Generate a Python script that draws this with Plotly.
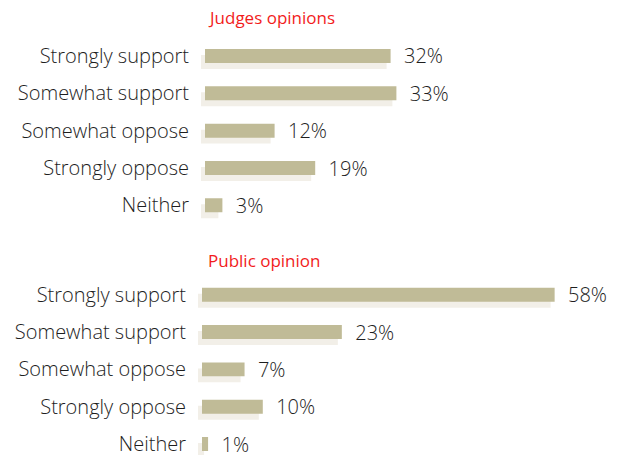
import plotly.graph_objects as go

categories = ["Strongly support", "Somewhat support", "Somewhat oppose", "Strongly oppose", "Neither"]
judges_values = [32, 33, 12, 19, 3]
public_values = [58, 23, 7, 10, 1]
titles = ["Judges opinions", "Public opinion"]

W, H = 618, 457
BAR = "#c0bb97"
SHADOW = "#f2efe8"
FONT = "Open Sans"
FW = 300
TXT = "#1e1e1e"

SPACING = 37.5
SH_DX, SH_DY = -4, 6


def xdom(x0_px, scale, xmax):
    return [x0_px / W, min(1.0, (x0_px + scale * xmax) / W)]


def ydom(top_px, bottom_px):
    lo = max(0.0, (H - bottom_px) / H)
    hi = (H - top_px) / H
    vis_bottom = min(bottom_px, H)
    r_bottom = -0.5 + (vis_bottom - top_px) / SPACING
    return [lo, hi], [r_bottom, -0.5]


panels = [
    dict(vals=judges_values, x0=205, scale=5.8, xmax=70, c0=56.24),
    dict(vals=public_values, x0=202, scale=6.08, xmax=66, c0=296.0),
]

fig = go.Figure()
layout = dict(
    width=W, height=H, margin=dict(l=0, r=0, t=0, b=0),
    paper_bgcolor="white", plot_bgcolor="rgba(0,0,0,0)",
    showlegend=False, font=dict(family=FONT, size=20, color=TXT, weight=FW),
    bargap=1 - 14 / SPACING,
)

n = len(panels)
for i, p in enumerate(panels):
    top = p["c0"] - SPACING / 2
    bottom = top + SPACING * len(categories)
    si = i + 1
    mi = i + 1 + n
    sd, sr = ydom(top + SH_DY, bottom + SH_DY)
    md, mr = ydom(top, bottom)
    sx = "" if si == 1 else str(si)
    mx = str(mi)
    layout["xaxis" + sx] = dict(domain=xdom(p["x0"] + SH_DX, p["scale"], p["xmax"]), range=[0, p["xmax"]],
                                visible=False, anchor="y" + sx)
    layout["yaxis" + sx] = dict(domain=sd, range=sr, type="category", categoryorder="array",
                                categoryarray=categories, visible=False, anchor="x" + sx)
    layout["xaxis" + mx] = dict(domain=xdom(p["x0"], p["scale"], p["xmax"]), range=[0, p["xmax"]],
                                visible=False, anchor="y" + mx)
    layout["yaxis" + mx] = dict(domain=md, range=mr, type="category", categoryorder="array",
                                categoryarray=categories, showgrid=False, zeroline=False, showline=False,
                                ticks="", ticklabelstandoff=15,
                                tickfont=dict(family=FONT, size=20, color=TXT, weight=FW),
                                anchor="x" + mx)
    fig.add_trace(go.Bar(x=p["vals"], y=categories, orientation="h", marker=dict(color=SHADOW, line=dict(width=0)),
                         xaxis="x" + sx, yaxis="y" + sx, hoverinfo="skip"))

for i, p in enumerate(panels):
    mx = str(i + 1 + n)
    fig.add_trace(go.Bar(x=p["vals"], y=categories, orientation="h", marker=dict(color=BAR, line=dict(width=0)),
                         xaxis="x" + mx, yaxis="y" + mx,
                         text=[f"\u00a0\u00a0{v}%" for v in p["vals"]], textposition="outside",
                         constraintext="none", cliponaxis=False,
                         textfont=dict(family=FONT, size=20, color=TXT, weight=FW)))

title_y = [18, 262]
layout["annotations"] = [
    dict(text=t, x=206 / W, y=1 - ty / H, xref="paper", yref="paper", xanchor="left", yanchor="middle",
         showarrow=False, font=dict(family=FONT, size=17, color="#f21c1c", weight=400))
    for t, ty in zip(titles, title_y)
]

fig.update_layout(**layout)
fig.write_html("out.html")
